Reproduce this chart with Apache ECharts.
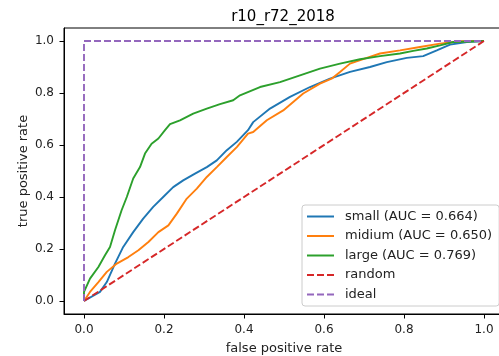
<!DOCTYPE html>
<html>
<head>
<meta charset="utf-8">
<script src="https://cdn.jsdelivr.net/npm/echarts@6/dist/echarts.min.js"></script>
<style>
html, body { margin: 0; padding: 0; background: #fff; }
#chart { width: 499px; height: 356px; }
</style>
</head>
<body>
<div id="chart"></div>
<script>
var tickValues = [0, 0.2, 0.4, 0.6, 0.8, 1.0];

var smallFpr = [0, 0.04, 0.057, 0.0775, 0.098, 0.123, 0.148, 0.173, 0.198, 0.223, 0.248, 0.2775, 0.307, 0.332, 0.357, 0.382, 0.41, 0.423, 0.465, 0.515, 0.565, 0.615, 0.665, 0.715, 0.757, 0.807, 0.848, 0.882, 0.915, 0.957, 1.0];
var smallTpr = [0, 0.035, 0.073, 0.144, 0.208, 0.265, 0.317, 0.362, 0.4, 0.438, 0.464, 0.49, 0.515, 0.541, 0.58, 0.612, 0.657, 0.688, 0.74, 0.785, 0.823, 0.855, 0.881, 0.9, 0.919, 0.935, 0.942, 0.964, 0.986, 0.996, 1.0];

var midiumFpr = [0, 0.015, 0.036, 0.057, 0.082, 0.111, 0.136, 0.161, 0.186, 0.211, 0.232, 0.257, 0.282, 0.307, 0.332, 0.357, 0.382, 0.41, 0.423, 0.457, 0.498, 0.548, 0.59, 0.619, 0.64, 0.665, 0.698, 0.74, 0.79, 0.84, 0.89, 0.94, 1.0];
var midiumTpr = [0, 0.035, 0.073, 0.112, 0.144, 0.169, 0.195, 0.227, 0.265, 0.291, 0.336, 0.394, 0.432, 0.477, 0.515, 0.554, 0.592, 0.644, 0.65, 0.695, 0.733, 0.798, 0.836, 0.855, 0.881, 0.913, 0.93, 0.952, 0.964, 0.977, 0.99, 0.999, 1.0];

var largeFpr = [0, 0, 0.015, 0.036, 0.0525, 0.065, 0.0775, 0.094, 0.107, 0.123, 0.14, 0.1525, 0.169, 0.186, 0.2025, 0.215, 0.24, 0.273, 0.307, 0.34, 0.373, 0.39, 0.44, 0.49, 0.54, 0.59, 0.64, 0.69, 0.74, 0.79, 0.823, 0.857, 0.89, 0.923, 1.0];
var largeTpr = [0, 0.035, 0.086, 0.131, 0.176, 0.208, 0.272, 0.349, 0.4, 0.471, 0.515, 0.567, 0.605, 0.625, 0.657, 0.68, 0.695, 0.721, 0.74, 0.757, 0.772, 0.791, 0.823, 0.842, 0.868, 0.894, 0.913, 0.93, 0.942, 0.952, 0.962, 0.971, 0.983, 0.996, 1.0];

var randomFpr = [0, 1];
var randomTpr = [0, 1];
var idealFpr = [0, 0, 1];
var idealTpr = [0, 1, 1];

var legendNames = ["small (AUC = 0.664)", "midium (AUC = 0.650)", "large (AUC = 0.769)", "random", "ideal"];

function pairs(xs, ys) {
    return xs.map(function(x, i) { return [x, ys[i]]; });
}

var font = "DejaVu Sans";
var e = echarts.init(document.getElementById("chart"));

function lineSeries(name, xs, ys, color, dashed) {
    return {
        name: name,
        type: "line",
        data: pairs(xs, ys),
        symbol: "none",
        showSymbol: false,
        animation: false,
        color: color,
        lineStyle: { color: color, width: 1.9, type: dashed ? [7, 3] : "solid" },
        emphasis: { disabled: true }
    };
}

var axisCommon = {
    type: "value",
    min: -0.05,
    max: 1.05,
    nameMoveOverlap: false,
    splitLine: { show: false },
    axisLine: { onZero: false, lineStyle: { color: "#000", width: 1 } },
    axisTick: { show: true, length: 4.5, customValues: tickValues, lineStyle: { color: "#000" } },
    axisLabel: {
        customValues: tickValues,
        color: "#222",
        fontFamily: font,
        fontSize: 12,
        formatter: function(v) { return v.toFixed(1); }
    },
    nameTextStyle: { color: "#222", fontFamily: font, fontSize: 13 }
};

var xAxis = Object.assign({}, axisCommon, {
    name: "false positive rate",
    nameLocation: "middle",
    nameGap: 28,
    axisLabel: Object.assign({}, axisCommon.axisLabel, { margin: 10 })
});
var yAxis = Object.assign({}, axisCommon, {
    name: "true positive rate",
    nameLocation: "middle",
    nameGap: 34,
    axisLabel: Object.assign({}, axisCommon.axisLabel, { margin: 10 })
});

e.setOption({
    backgroundColor: "#fff",
    title: {
        text: "r10_r72_2018",
        left: 283,
        top: 10,
        padding: 0,
        textAlign: "center",
        textStyle: { fontFamily: font, fontSize: 15, fontWeight: "normal", color: "#000" }
    },
    grid: {
        left: 64,
        top: 28,
        width: 440,
        height: 286,
        show: true,
        borderColor: "#000",
        borderWidth: 1,
        outerBoundsMode: "none",
        containLabel: false
    },
    legend: {
        orient: "vertical",
        left: 302,
        top: 205,
        itemWidth: 27,
        itemHeight: 13,
        itemGap: 6.5,
        padding: [5, 7, 5, 4],
        backgroundColor: "rgba(255,255,255,0.85)",
        borderColor: "#ccc",
        borderWidth: 1,
        borderRadius: 3,
        itemStyle: { opacity: 0 },
        textStyle: { fontFamily: font, fontSize: 13, color: "#222", padding: [0, 0, 0, 6] },
        data: legendNames
    },
    xAxis: xAxis,
    yAxis: yAxis,
    series: [
        lineSeries(legendNames[0], smallFpr, smallTpr, "#1f77b4", false),
        lineSeries(legendNames[1], midiumFpr, midiumTpr, "#ff7f0e", false),
        lineSeries(legendNames[2], largeFpr, largeTpr, "#2ca02c", false),
        lineSeries(legendNames[3], randomFpr, randomTpr, "#d62728", true),
        lineSeries(legendNames[4], idealFpr, idealTpr, "#9467bd", true)
    ]
});
</script>
</body>
</html>
